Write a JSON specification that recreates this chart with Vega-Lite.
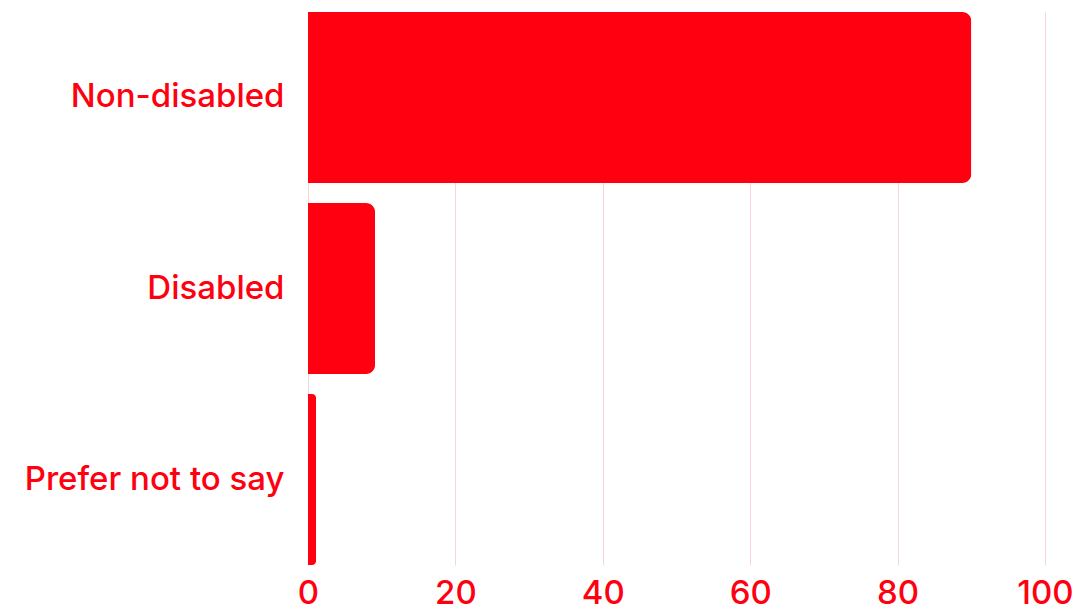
{
  "$schema": "https://vega.github.io/schema/vega-lite/v6.json",
  "width": 737,
  "height": 553,
  "autosize": {"type": "none"},
  "padding": {"left": 308, "top": 12, "right": 32, "bottom": 45},
  "background": "white",
  "data": {
    "values": [
      {"category": "Non-disabled", "percent": 90},
      {"category": "Disabled", "percent": 9.1},
      {"category": "Prefer not to say", "percent": 1.1}
    ]
  },
  "mark": {"type": "bar", "color": "#ff0010", "cornerRadiusEnd": 9},
  "encoding": {
    "y": {
      "field": "category",
      "type": "nominal",
      "sort": null,
      "scale": {"paddingInner": 0.105, "paddingOuter": 0},
      "axis": {
        "title": null,
        "domain": false,
        "ticks": false,
        "labelFont": "Inter, sans-serif",
        "labelFontSize": 33,
        "labelFontWeight": 500,
        "labelColor": "#ff0010",
        "labelPadding": 24,
        "labelLimit": 400
      }
    },
    "x": {
      "field": "percent",
      "type": "quantitative",
      "scale": {"domain": [0, 100]},
      "axis": {
        "title": null,
        "domain": false,
        "ticks": false,
        "values": [0, 20, 40, 60, 80, 100],
        "grid": true,
        "gridColor": "#f9d4d8",
        "gridWidth": 1,
        "labelFlush": false,
        "labelFont": "Inter, sans-serif",
        "labelFontSize": 33,
        "labelFontWeight": 500,
        "labelColor": "#ff0010",
        "labelPadding": 12
      }
    }
  },
  "config": {"view": {"stroke": null}}
}
